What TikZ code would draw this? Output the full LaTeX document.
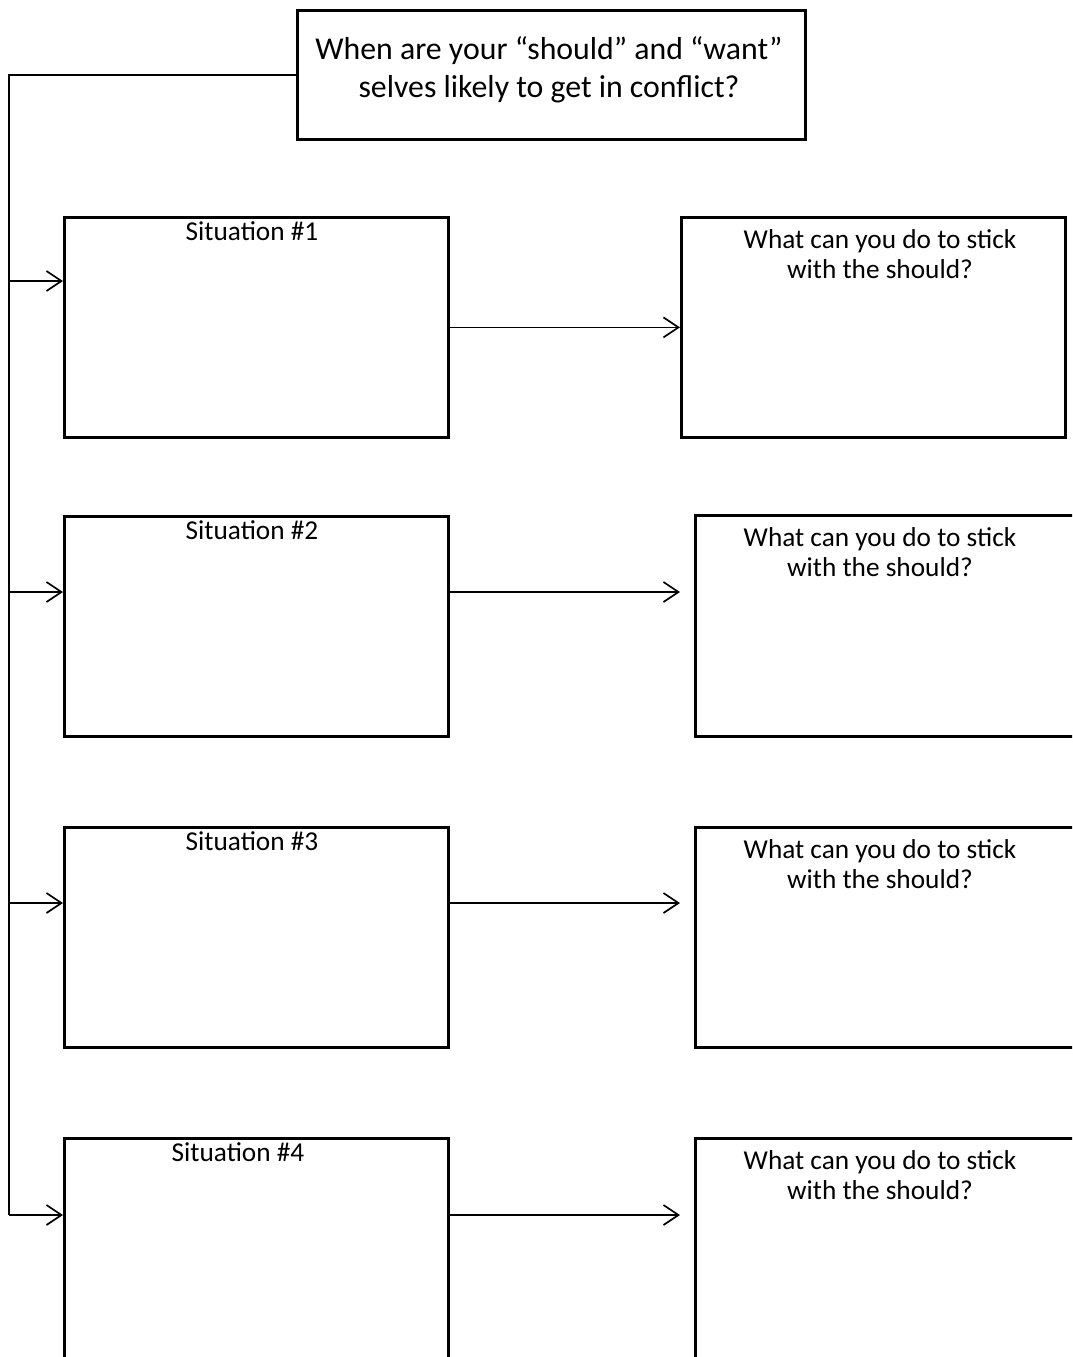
\documentclass[tikz,border=0pt]{standalone}
\usepackage{fontspec}
\setmainfont{Carlito}
\usetikzlibrary{arrows.meta}
\begin{document}
\begin{tikzpicture}[x=1pt,y=-1pt,
  box/.style={draw=black,line width=2.8pt,rectangle,inner sep=0pt,anchor=north west},
  conn/.style={draw=black,line width=1.7pt},
  arr/.style={conn,-{Straight Barb[length=15pt,width=20pt,line width=1.7pt]}},
  lbl/.style={inner sep=0pt,anchor=base,font=\fontsize{27.3pt}{30.5pt}\selectfont,align=center},
  toplbl/.style={inner sep=0pt,anchor=base,font=\fontsize{31.8pt}{38pt}\selectfont,align=center}]
\useasboundingbox (0,0) rectangle (1072,1357);
\clip (0,0) rectangle (1072,1357);
\fill[white] (0,0) rectangle (1072,1357);
% top box
\node[box,minimum width=508pt,minimum height=129pt] (top) at (296,9) {};
\node[toplbl] (toptxt) at (549,97) {When are your “should” and “want”\\selves likely to get in conflict?};
% situation boxes
\node[box,minimum width=384pt,minimum height=220pt] (s1) at (63,216) {};
\node[box,minimum width=384pt,minimum height=220pt] (s2) at (63,515) {};
\node[box,minimum width=384pt,minimum height=220pt] (s3) at (63,826) {};
\node[box,minimum width=384pt,minimum height=221pt] (s4) at (63,1137) {};
\node[lbl] (st1) at (252,240) {Situation \#1};
\node[lbl] (st2) at (252,539) {Situation \#2};
\node[lbl] (st3) at (252,850) {Situation \#3};
\node[lbl] (st4) at (238,1161) {Situation \#4};
% response boxes
\node[box,minimum width=384pt,minimum height=220pt] (r1) at (680,216) {};
\node[box,minimum width=400pt,minimum height=221pt] (r2) at (694,514) {};
\node[box,minimum width=400pt,minimum height=220pt] (r3) at (694,826) {};
\node[box,minimum width=400pt,minimum height=221pt] (r4) at (694,1137) {};
\node[lbl] (rt1) at (880,278.5) {What can you do to stick\\with the should?};
\node[lbl] (rt2) at (880,576.5) {What can you do to stick\\with the should?};
\node[lbl] (rt3) at (880,888.5) {What can you do to stick\\with the should?};
\node[lbl] (rt4) at (880,1199.5) {What can you do to stick\\with the should?};
% trunk
\coordinate (j1) at (9,281);
\coordinate (j2) at (9,592);
\coordinate (j3) at (9,903);
\coordinate (j4) at (9,1215);
\draw[conn] (top.west) -| (j4);
\draw[arr] (j1) -- (j1 -| s1.west);
\draw[arr] (j2) -- (j2 -| s2.west);
\draw[arr] (j3) -- (j3 -| s3.west);
\draw[arr] (j4) -- (j4 -| s4.west);
% right connectors
\coordinate (e2) at (680,592);
\coordinate (e3) at (680,903);
\coordinate (e4) at (680,1215);
\draw[arr] (s1.east) -- (r1.west);
\draw[arr] (e2 -| s2.east) -- (e2);
\draw[arr] (e3 -| s3.east) -- (e3);
\draw[arr] (e4 -| s4.east) -- (e4);
\end{tikzpicture}
\end{document}
